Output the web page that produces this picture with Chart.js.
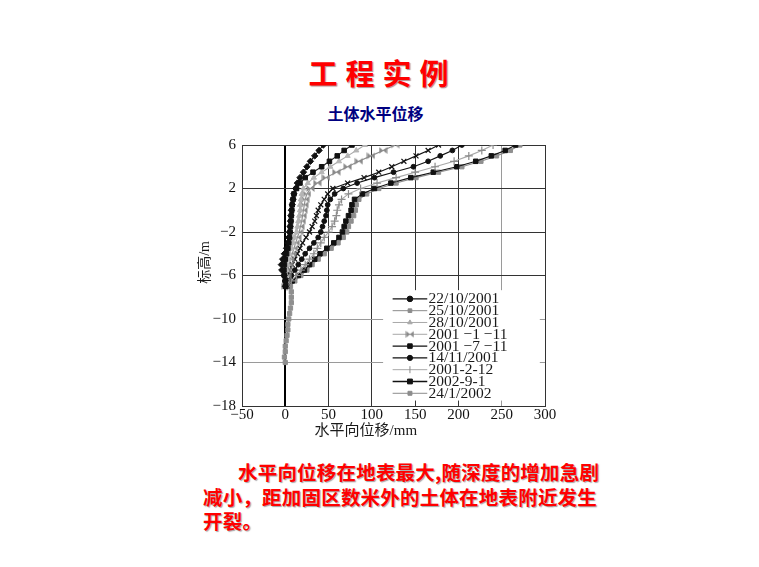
<!DOCTYPE html>
<html>
<head>
<meta charset="utf-8">
<script src="https://cdn.jsdelivr.net/npm/chart.js@4.4.1/dist/chart.umd.min.js"></script>
<style>
  html, body { margin:0; padding:0; background:#fff; }
  body { width:759px; height:567px; overflow:hidden; position:relative; font-family:'Noto Sans CJK SC', sans-serif; }
  #title { position:absolute; left:4px; width:757px; top:52px; text-align:center; color:#ff0000; font-size:29px; font-weight:bold; letter-spacing:8px; line-height:40px; text-shadow:1px 1px 1px rgba(80,0,0,0.45); }
  #subtitle { position:absolute; left:0; width:751px; top:102px; text-align:center; color:#000080; font-size:16px; font-weight:bold; line-height:22px; }
  #note { position:absolute; left:203px; top:460px; width:430px; color:#ff0000; font-size:19.5px; font-weight:bold; line-height:24.5px; letter-spacing:0.2px; text-shadow:1px 1px 1px rgba(90,90,90,0.55); }
  #wrap { position:absolute; left:180px; top:130px; width:380px; height:320px; }
</style>
</head>
<body>
<div id="title">工程实例</div>
<div id="subtitle">土体水平位移</div>
<div id="wrap"><canvas id="c" width="380" height="320"></canvas></div>
<div id="note"><span style="padding-left:35px">水平向位移在地表最大,随深度的增加急剧</span><br>减小，距加固区数米外的土体在地表附近发生<br>开裂。</div>
<script>
// ---- data ----
const xTicks = [-50, 0, 50, 100, 150, 200, 250, 300];
const yTicks = [6, 2, -2, -6, -10, -14, -18];
const elevation = [6, 5.5, 5, 4.5, 4, 3.5, 3, 2.5, 2, 1.5, 1, 0.5, 0, -0.5, -1, -1.5, -2, -2.5, -3, -3.5, -4, -4.5, -5, -5.5, -6, -6.5, -7];
const deepElevation = [-7.5, -8, -8.5, -9, -9.5, -10, -10.5, -11, -11.5, -12, -12.5, -13, -13.5, -14];
const seriesLabels = ['22/10/2001', '25/10/2001', '28/10/2001', '2001 −1 −11', '2001 −7 −11', '14/11/2001', '2001-2-12', '2002-9-1', '24/1/2002'];
const s22Oct = [44, 39, 34, 29, 25, 21, 17, 14, 12, 10, 9, 8, 7, 6.5, 6, 5.5, 5, 4, 3, 1.5, -1, -3, -4.5, -4, -1.5, 0, 0];
const s25Oct = [77, 68, 60, 51, 42, 32, 23, 17, 13, 10, 9, 8, 7.5, 7, 6.5, 6, 5.5, 5, 4, 3, 1.5, 0, -1, -1.5, -1, 0, 0.5];
const s28Oct = [92, 82, 72, 62, 52, 42, 33, 26, 21, 19, 18, 17, 17, 16, 15, 14, 13, 11, 9, 7, 5, 3.5, 2.5, 1.5, 1, 0.5, 0];
const s1Nov = [127, 113, 99, 85, 72, 59, 47, 37, 29, 25, 23, 22, 21, 20, 19, 17.5, 16, 14, 12, 10, 8, 6, 4.5, 3, 2, 1, 0];
const s7Nov = [177, 165, 151, 137, 123, 108, 91, 72, 55, 49, 45, 41, 38, 36, 34, 31, 28, 24, 20, 17, 14, 11, 8, 5, 3, 1.5, 0];
const s14Nov = [204, 193, 179, 165, 148, 125, 103, 83, 67, 57, 52, 49, 48, 47, 45, 43, 41, 38, 33, 28, 23, 19, 15, 11, 7, 3, 0];
const s2Dec = [240, 227, 212, 195, 173, 150, 128, 106, 87, 73, 65, 62, 60, 59, 57, 54, 50, 45, 41, 37, 33, 28, 23, 18, 13, 7, 2];
const s9Jan = [266, 254, 238, 220, 198, 171, 145, 122, 103, 89, 80, 77, 76, 73, 70, 68, 66, 62, 56, 48, 40, 34, 28, 22, 15, 8, 2];
const s24Jan = [271, 260, 244, 226, 204, 177, 151, 128, 108, 94, 85, 82, 81, 79, 76, 73, 71, 67, 61, 53, 45, 38, 31, 25, 18, 11, 6];
const s24JanDeep = [7, 7, 7, 6, 5, 4, 3, 3, 2, 1, 0, 0, -1, 0];

// ---- markers ----
function bowtie(color) {
  const c = document.createElement('canvas'); c.width = 9; c.height = 9;
  const g = c.getContext('2d'); g.fillStyle = color;
  g.beginPath(); g.moveTo(0.5, 1); g.lineTo(0.5, 8); g.lineTo(4.5, 4.5); g.closePath(); g.fill();
  g.beginPath(); g.moveTo(8.5, 1); g.lineTo(8.5, 8); g.lineTo(4.5, 4.5); g.closePath(); g.fill();
  return c;
}
const bowGray = bowtie('#8a8a8a');

const BLACK = '#111', GRAY = '#8c8c8c', LGRAY = '#a8a8a8';
const styles = [
  { line: BLACK, ps: 'rectRot', r: 3.2, fill: BLACK, bw: 1 },
  { line: '#222', ps: 'rect', r: 3.2, fill: '#111', bw: 1 },
  { line: LGRAY, ps: 'triangle', r: 3, fill: '#b5b5b5', bw: 1 },
  { line: GRAY, ps: bowGray, r: 4, fill: GRAY, bw: 1 },
  { line: BLACK, ps: 'crossRot', r: 3.5, fill: BLACK, bw: 1.2 },
  { line: BLACK, ps: 'circle', r: 2.4, fill: BLACK, bw: 1 },
  { line: LGRAY, ps: 'cross', r: 4, fill: GRAY, bw: 1.2 },
  { line: BLACK, ps: 'rect', r: 3.2, fill: BLACK, bw: 1 },
  { line: GRAY, ps: 'rect', r: 3, fill: '#8f8f8f', bw: 1 }
];
const legendMarks = [
  { line: BLACK, ps: 'circle', r: 2.8, fill: BLACK },
  { line: GRAY, ps: 'rect', r: 2.6, fill: GRAY },
  { line: LGRAY, ps: 'triangle', r: 2.6, fill: LGRAY },
  { line: LGRAY, ps: bowGray, r: 4, fill: GRAY },
  { line: BLACK, ps: 'rect', r: 3.2, fill: BLACK },
  { line: BLACK, ps: 'circle', r: 2.6, fill: BLACK },
  { line: LGRAY, ps: 'line', r: 3.5, fill: GRAY, rot: 90 },
  { line: BLACK, ps: 'rect', r: 3.4, fill: BLACK },
  { line: GRAY, ps: 'rect', r: 2.8, fill: GRAY }
];

const seriesValues = [s22Oct, s25Oct, s28Oct, s1Nov, s7Nov, s14Nov, s2Dec, s9Jan, s24Jan];
const datasets = seriesValues.map((vals, k) => {
  const pts = elevation.map((y, i) => ({ x: vals[i], y: y }));
  if (k === 8) deepElevation.forEach((y, i) => pts.push({ x: s24JanDeep[i], y: y }));
  const st = styles[k];
  return {
    label: seriesLabels[k], data: pts, showLine: true,
    borderColor: st.line, borderWidth: 1.1,
    pointStyle: st.ps, pointRadius: st.r, pointBackgroundColor: st.fill,
    pointBorderColor: st.fill, pointBorderWidth: st.bw, tension: 0
  };
});

const serif = "'Liberation Serif', 'Noto Sans CJK SC', serif";

const customPlugin = {
  id: 'custom',
  afterDatasetsDraw(chart) {
    const ctx = chart.ctx, xs = chart.scales.x, ys = chart.scales.y, ca = chart.chartArea;
    ctx.save();
    ctx.fillStyle = '#fff';
    const bx0 = xs.getPixelForValue(113), bx1 = xs.getPixelForValue(294);
    const by0 = ys.getPixelForValue(-7.35), by1 = ys.getPixelForValue(-17.5);
    ctx.fillRect(bx0, by0, bx1 - bx0, by1 - by0);
    const l0 = xs.getPixelForValue(124), l1 = xs.getPixelForValue(164), tx = xs.getPixelForValue(165.5);
    const row0 = ys.getPixelForValue(-8.15);
    ctx.font = "15.5px " + serif;
    ctx.textBaseline = 'middle';
    seriesLabels.forEach((lab, i) => {
      const y = row0 + i * 11.8;
      const m = legendMarks[i];
      ctx.strokeStyle = m.line; ctx.lineWidth = (m.line === BLACK) ? 1.4 : 1;
      ctx.beginPath(); ctx.moveTo(l0, y); ctx.lineTo(l1, y); ctx.stroke();
      ctx.fillStyle = m.fill; ctx.strokeStyle = m.fill; ctx.lineWidth = 1;
      Chart.helpers.drawPoint(ctx, { pointStyle: m.ps, radius: m.r, borderWidth: 1, rotation: m.rot || 0 }, (l0 + l1) / 2, y);
      ctx.fillStyle = '#1a1a1a';
      ctx.fillText(lab, tx, y + 0.5);
    });
    ctx.fillStyle = '#1a1a1a';
    ctx.textAlign = 'center';
    ctx.font = "15px " + serif;
    ctx.fillText('水平向位移/mm', xs.getPixelForValue(93), ca.bottom + 25);
    ctx.save();
    ctx.translate(ca.left - 37, ys.getPixelForValue(-4.8));
    ctx.rotate(-Math.PI / 2);
    ctx.font = "14px " + serif;
    ctx.fillText('标高/m', 0, 0);
    ctx.restore();
    ctx.restore();
  }
};

const fmt = v => String(v).replace('-', '−');

new Chart(document.getElementById('c'), {
  type: 'scatter',
  data: { datasets },
  options: {
    responsive: false, animation: false, devicePixelRatio: 1,
    layout: { padding: { left: 15, top: 14, right: 15, bottom: 0 } },
    plugins: { legend: { display: false }, tooltip: { enabled: false } },
    scales: {
      x: {
        type: 'linear', min: -50, max: 300,
        afterBuildTicks: s => { s.ticks = xTicks.map(v => ({ value: v })); },
        afterFit: s => { s.height = 44; },
        ticks: { callback: fmt, font: { family: serif, size: 15 }, color: '#111', padding: 0, maxRotation: 0 },
        grid: {
          drawTicks: false,
          color: c => c.tick.value === 250 ? '#9a9a9a' : (c.tick.value === 0 ? '#000' : '#333'),
          lineWidth: c => c.tick.value === 0 ? 2 : 1
        },
        border: { color: '#333', width: 1 }
      },
      y: {
        type: 'linear', min: -18, max: 6,
        afterBuildTicks: s => { s.ticks = yTicks.map(v => ({ value: v })); },
        afterFit: s => { s.width = 47; },
        ticks: { callback: fmt, font: { family: serif, size: 15 }, color: '#111', padding: 6 },
        grid: {
          drawTicks: false,
          color: c => (c.tick.value === -10 || c.tick.value === -14) ? '#9a9a9a' : '#333',
          lineWidth: 1
        },
        border: { color: '#333', width: 1 }
      }
    }
  },
  plugins: [customPlugin]
});
</script>
</body>
</html>
